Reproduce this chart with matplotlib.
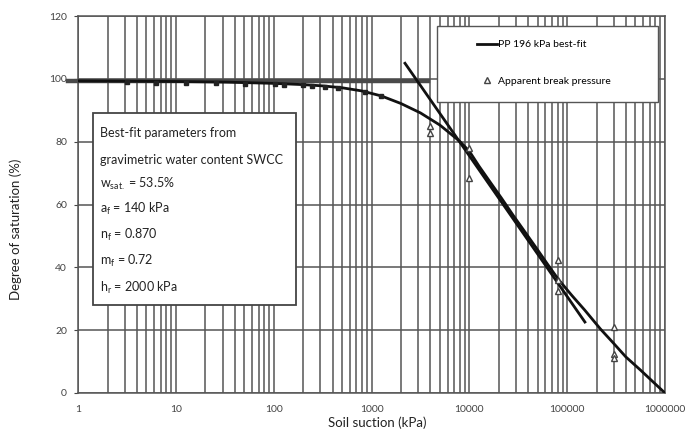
import matplotlib
matplotlib.use("Agg")
import matplotlib.pyplot as plt
from matplotlib.patches import Rectangle

plt.rcParams['font.family'] = ['Lato', 'DejaVu Sans']
plt.rcParams['mathtext.fontset'] = 'custom'
plt.rcParams['mathtext.rm'] = 'Lato'
plt.rcParams['mathtext.it'] = 'Lato:italic'

# fitted SWCC curve
curve_suction = [1, 10, 32, 100, 200, 316, 500, 794, 1259, 1995, 3162, 5012, 7943,
                 10000, 12589, 16218, 21380, 28184, 38019, 50119, 63096, 81283,
                 112202, 151356, 218776, 295121, 398107, 562341, 758578, 1000000]
curve_sat = [99.4, 99.2, 99.0, 98.6, 98.2, 97.8, 97.2, 96.2, 94.6, 92.2, 89.2, 85.3, 80.2,
             77.0, 72.2, 67.3, 62.0, 56.5, 50.8, 45.5, 41.0, 36.2,
             31.0, 26.4, 20.4, 16.0, 11.5, 7.3, 3.5, 0.0]

# measured points
meas_suction = [3.2, 6.3, 12.7, 25.6, 51, 103, 127, 200, 245, 334, 450, 860, 1260]
meas_sat = [99.0, 98.8, 98.6, 98.6, 98.5, 98.3, 98.2, 98.0, 97.9, 97.5, 97.1, 95.8, 94.6]

# apparent break pressure points
break_suction = [4000, 4000, 10000, 10000, 80000, 80000, 80000, 300000, 300000, 300000]
break_sat = [85.0, 82.8, 78.0, 68.5, 42.5, 36.0, 32.5, 21.0, 12.5, 11.0]

# PP 196 kPa best-fit line
fit_suction = [2200, 152000]
fit_sat = [105.0, 22.6]

# saturated plateau
plateau_suction = [0.79, 3800]
plateau_sat = [99.4, 99.4]

params = ["Best-fit parameters from",
          "gravimetric water content SWCC",
          "w$_{\\mathrm{sat.}}$ = 53.5%",
          "a$_{\\mathrm{f}}$ = 140 kPa",
          "n$_{\\mathrm{f}}$ = 0.870",
          "m$_{\\mathrm{f}}$ = 0.72",
          "h$_{\\mathrm{r}}$ = 2000 kPa"]

grid_c = '#555555'

fig = plt.figure(figsize=(6.97, 4.37), dpi=100)
ax = fig.add_axes([0.112, 0.1007, 0.842, 0.8623])

ax.set_xscale('log')
ax.set_xlim(1, 1000000)
ax.set_ylim(0, 120)
ax.set_yticks([0, 20, 40, 60, 80, 100, 120])
ax.set_xticks([1, 10, 100, 1000, 10000, 100000, 1000000])
ax.set_xticklabels(['1', '10', '100', '1000', '10000', '100000', '1000000'])
ax.minorticks_on()
ax.yaxis.set_minor_locator(plt.NullLocator())
ax.grid(which='major', color=grid_c, lw=1.1)
ax.grid(which='minor', axis='x', color=grid_c, lw=1.1)
ax.set_axisbelow(True)
for s in ax.spines.values():
    s.set_color(grid_c)
    s.set_linewidth(1.1)
ax.tick_params(axis='both', which='both', colors='#444444', labelsize=7.5)
ax.tick_params(axis='x', which='both', length=0, pad=9)
ax.tick_params(axis='y', length=3, pad=5)

ax.plot(plateau_suction, plateau_sat, color='#4a4a4a', lw=3.2, clip_on=False, zorder=3)
ax.plot(curve_suction, curve_sat, color='#111111', lw=2.0, zorder=4)
ax.plot(fit_suction, fit_sat, color='#111111', lw=2.0, zorder=4, label='PP 196 kPa best-fit')
ax.plot(meas_suction, meas_sat, 's', color='#222222', ms=3.5, zorder=5)
ax.plot(break_suction, break_sat, '^', mfc='white', mec='#444444', mew=1.0, ms=4.5,
        ls='none', zorder=5, label='Apparent break pressure')

ax.set_xlabel('Soil suction (kPa)', fontsize=9.5, color='#222222')
ax.set_ylabel('Degree of saturation (%)', fontsize=9.5, color='#222222')
ax.xaxis.set_label_coords(0.509, -0.063)
ax.yaxis.set_label_coords(-0.095, 0.435)

# legend box
ax.add_patch(Rectangle((0.6116, 0.772), 0.3765, 0.2015, transform=ax.transAxes,
                       facecolor='white', edgecolor=grid_c, lw=1.0, zorder=6))
ax.legend(loc='upper left', bbox_to_anchor=(0.655, 0.975), frameon=False, fontsize=7.5,
          handlelength=1.9, handletextpad=0.1, labelspacing=2.6, borderpad=0.9)
ax.get_legend().set_zorder(7)

# parameter box
ax.add_patch(Rectangle((0.0256, 0.2334), 0.3454, 0.5096, transform=ax.transAxes,
                       facecolor='white', edgecolor='#444444', lw=1.3, zorder=6))
line_y = [133, 160, 184, 209, 235, 261, 288]
for txt, py in zip(params, line_y):
    ax.text(0.0375, (393 - py) / 377, txt, transform=ax.transAxes, fontsize=9,
            color='#222222', va='center', ha='left', zorder=7)

plt.savefig('out.png', dpi=100)
